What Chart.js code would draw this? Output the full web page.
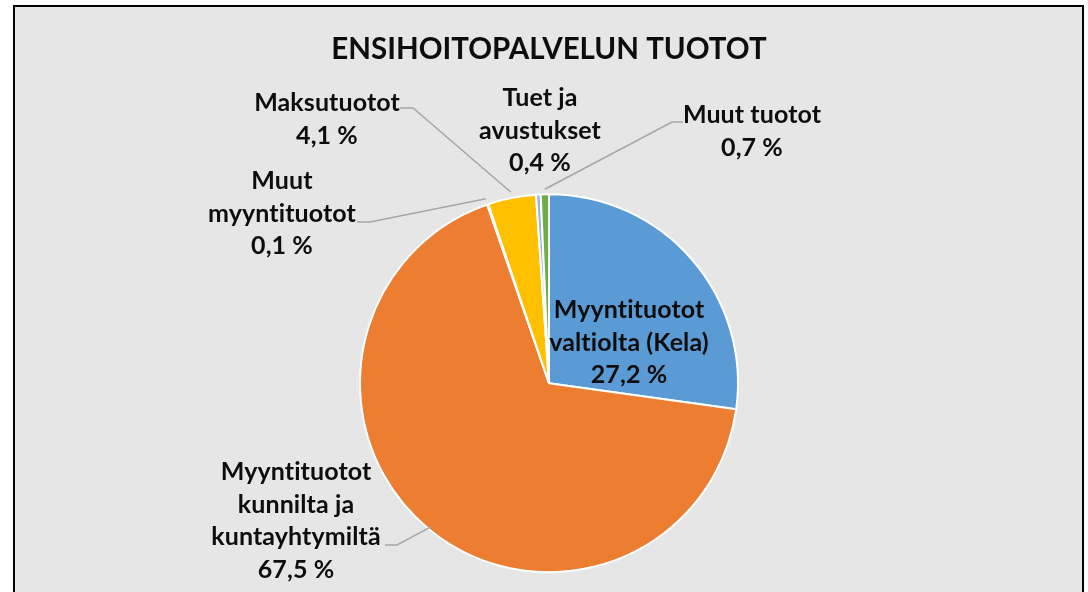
<!DOCTYPE html>
<html>
<head>
<meta charset="utf-8">
<script src="https://cdn.jsdelivr.net/npm/chart.js@4"></script>
<style>
  html, body { margin: 0; padding: 0; background: #ffffff; }
  body { width: 1088px; height: 592px; position: relative; overflow: hidden; }
  #frame {
    position: absolute; left: 13px; top: 5px; width: 1067px; height: 600px;
    background: #e6e6e6; border: 2px solid #000; border-bottom: none;
  }
  #wrap { position: absolute; left: 0; top: 0; width: 1088px; height: 592px; }
</style>
</head>
<body>
<div id="frame"></div>
<div id="wrap"><canvas id="pieChart"></canvas></div>
<script>
/* =========================
   DATA
========================= */
const labels = [
  'Myyntituotot valtiolta (Kela)',
  'Myyntituotot kunnilta ja kuntayhtymiltä',
  'Muut myyntituotot',
  'Maksutuotot',
  'Tuet ja avustukset',
  'Muut tuotot'
];
const shares = [27.2, 67.5, 0.1, 4.1, 0.4, 0.7];
const colors = ['#5b9bd5', '#ed7d31', '#a5a5a5', '#ffc000', '#9db5de', '#70ad47'];

// label text split into lines (as shown in the chart)
const labelLines = [
  ['Myyntituotot', 'valtiolta (Kela)'],
  ['Myyntituotot', 'kunnilta ja', 'kuntayhtymiltä'],
  ['Muut', 'myyntituotot'],
  ['Maksutuotot'],
  ['Tuet ja', 'avustukset'],
  ['Muut tuotot']
];

function pct(v) {
  return v.toFixed(1).replace('.', ',') + ' %';
}

/* =========================
   LABEL PLUGIN
========================= */
// where each label sits (centre x, first line y) and its leader line
const labelLayout = [
  { x: 629, y: 310, leader: null },
  { x: 296, y: 472, leader: { from: [385, 545], elbow: [397, 545], edge: -3 } },
  { x: 282, y: 181, leader: { from: [357, 222], elbow: [370, 222], edge: 6 } },
  { x: 327, y: 103, leader: { from: [400, 108], elbow: [413, 108], edge: 6 } },
  { x: 540, y: 98,  leader: null },
  { x: 752, y: 115, leader: { from: [683, 122], elbow: [672, 122], edge: 5 } }
];

const pieLabels = {
  id: 'pieLabels',
  afterDatasetsDraw(chart) {
    const ctx = chart.ctx;
    const arcs = chart.getDatasetMeta(0).data;
    const lh = 32.5;

    ctx.save();
    arcs.forEach((arc, i) => {
      const lay = labelLayout[i];
      const p = arc.getProps(['x', 'y', 'startAngle', 'endAngle', 'outerRadius'], true);

      if (lay.leader) {
        const mid = (p.startAngle + p.endAngle) / 2;
        const r = p.outerRadius + lay.leader.edge;
        ctx.beginPath();
        ctx.strokeStyle = '#a6a6a6';
        ctx.lineWidth = 1.5;
        ctx.moveTo(lay.leader.from[0], lay.leader.from[1]);
        ctx.lineTo(lay.leader.elbow[0], lay.leader.elbow[1]);
        ctx.lineTo(p.x + Math.cos(mid) * r, p.y + Math.sin(mid) * r);
        ctx.stroke();
      }

      const lines = labelLines[i].concat([pct(shares[i])]);
      ctx.fillStyle = '#0d0d0d';
      ctx.font = 'bold 25px Lato';
      ctx.letterSpacing = '0.1px';   // keeps "ti" from turning into a ligature
      ctx.textAlign = 'center';
      ctx.textBaseline = 'middle';
      lines.forEach((t, k) => ctx.fillText(t, lay.x, lay.y + k * lh));
    });
    ctx.restore();
  }
};

/* =========================
   CHART
========================= */
const ctx = document.getElementById('pieChart').getContext('2d');

new Chart(ctx, {
  type: 'pie',
  data: {
    labels: labels,
    datasets: [{
      data: shares,
      backgroundColor: colors,
      borderColor: '#ffffff',
      borderWidth: 2,
      radius: 189
    }]
  },
  options: {
    responsive: true,
    maintainAspectRatio: false,
    animation: false,
    layout: { padding: { left: 10, right: 0, top: 0, bottom: 0 } },
    plugins: {
      legend: { display: false },
      tooltip: { enabled: false },
      title: {
        display: true,
        text: 'ENSIHOITOPALVELUN TUOTOT',
        color: '#0d0d0d',
        font: { family: 'Lato', size: 29.5, weight: 'bold', lineHeight: 1.2 },
        padding: { top: 32, bottom: 107 }
      }
    }
  },
  plugins: [pieLabels]
});
</script>
</body>
</html>
